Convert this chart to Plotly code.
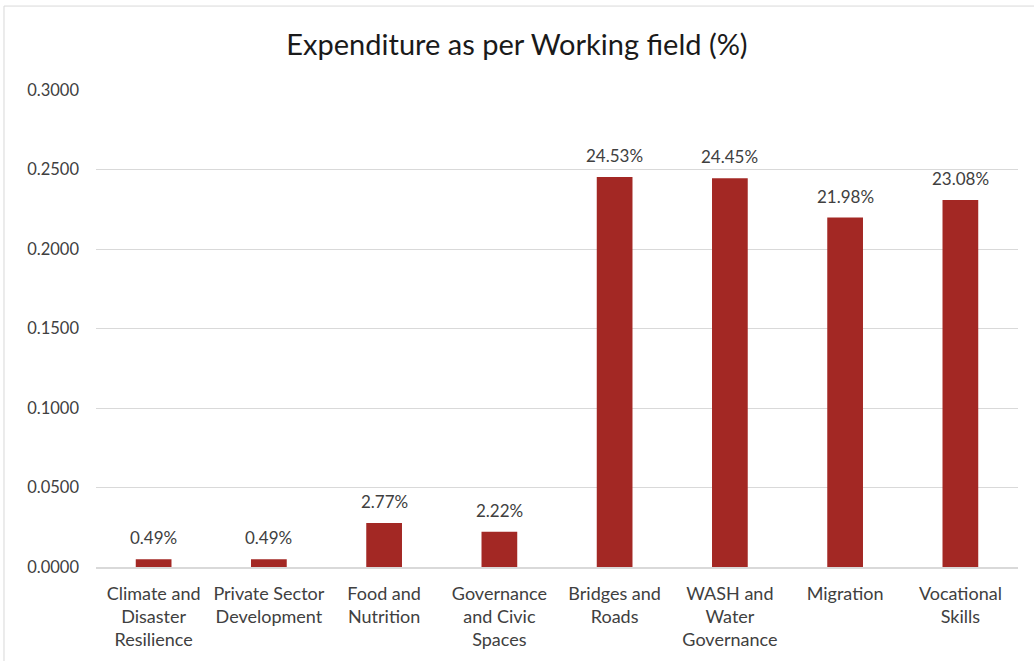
import plotly.graph_objects as go

categories = [
    "Climate and<br>Disaster<br>Resilience",
    "Private Sector<br>Development",
    "Food and<br>Nutrition",
    "Governance<br>and Civic<br>Spaces",
    "Bridges and<br>Roads",
    "WASH and<br>Water<br>Governance",
    "Migration",
    "Vocational<br>Skills",
]
values = [0.0049, 0.0049, 0.0277, 0.0222, 0.2453, 0.2445, 0.2198, 0.2308]
tick_vals = [0.0, 0.05, 0.10, 0.15, 0.20, 0.25, 0.30]
tick_text = ["0.0000", "0.0500", "0.1000", "0.1500", "0.2000", "0.2500", "0.3000"]

FONT = "Lato, Open Sans, sans-serif"

fig = go.Figure(
    go.Bar(
        x=categories,
        y=values,
        width=0.31,
        marker=dict(color="#A32824", line=dict(width=0)),
        hoverinfo="skip",
    )
)

annotations = [
    dict(
        x=c,
        y=v,
        xref="x",
        yref="y",
        text=f"{v * 100:.2f}%",
        showarrow=False,
        yanchor="bottom",
        yshift=9,
        font=dict(family=FONT, size=17, color="#404040"),
    )
    for c, v in zip(categories, values)
]

fig.update_layout(
    width=1034,
    height=661,
    margin=dict(l=96, r=16, t=90, b=94),
    paper_bgcolor="white",
    plot_bgcolor="white",
    showlegend=False,
    annotations=annotations,
    title=dict(
        text="Expenditure as per Working field (%)",
        x=0.5,
        xanchor="center",
        y=0.932,
        yanchor="middle",
        font=dict(family=FONT, size=29, color="#1a1a1a"),
    ),
    xaxis=dict(
        showgrid=False,
        showline=True,
        linecolor="#D9D9D9",
        linewidth=2,
        ticks="",
        ticklabelstandoff=9,
        tickfont=dict(family=FONT, size=18, color="#404040"),
        zeroline=False,
    ),
    yaxis=dict(
        range=[0, 0.3],
        tickvals=tick_vals,
        ticktext=tick_text,
        showgrid=True,
        gridcolor="#D9D9D9",
        gridwidth=1,
        zeroline=False,
        showline=False,
        ticks="",
        ticklabelstandoff=16,
        tickfont=dict(family=FONT, size=16.5, color="#404040"),
    ),
    shapes=[
        dict(
            type="rect",
            xref="paper",
            yref="paper",
            x0=-0.0998,
            y0=-0.3,
            x1=1.2,
            y1=1.176,
            line=dict(color="#D9D9D9", width=1),
            fillcolor="rgba(0,0,0,0)",
            layer="below",
        )
    ],
)

fig.write_html("out.html")
